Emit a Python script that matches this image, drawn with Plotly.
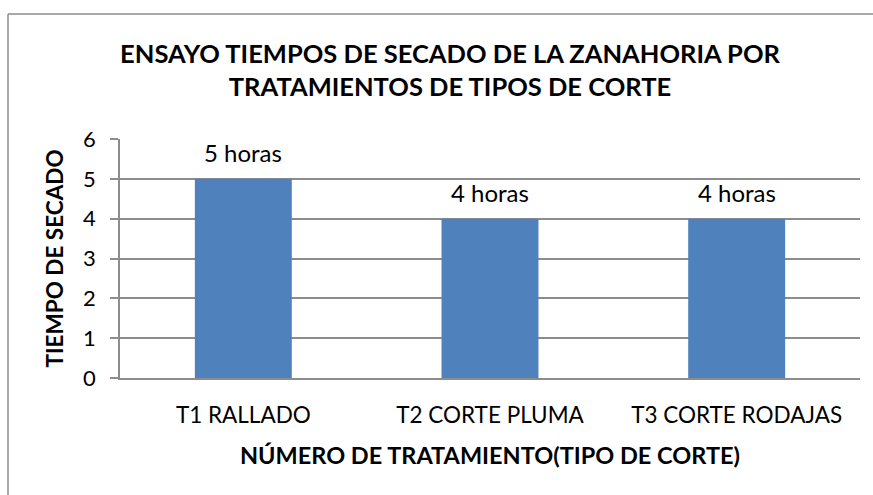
import plotly.graph_objects as go

categories = ["T1 RALLADO", "T2 CORTE PLUMA", "T3 CORTE RODAJAS"]
values = [5, 4, 4]
labels = ["5 horas", "4 horas", "4 horas"]
y_ticks = [0, 1, 2, 3, 4, 5, 6]

W, H = 873, 495
L, R, T, B = 120, 13, 139, 117
pw, ph = W - L - R, H - T - B

FONT = "Lato, Carlito, Calibri, sans-serif"

fig = go.Figure()
fig.add_trace(go.Bar(
    x=categories, y=values,
    marker=dict(color="#4F81BD", line=dict(width=0)),
    hoverinfo="x+y",
))

for c, v, t in zip(categories, values, labels):
    fig.add_annotation(x=c, y=v, text=t, showarrow=False, yanchor="middle",
                       yshift=26, font=dict(size=24, color="#000000", family=FONT))

# outer chart border (top and left edges visible)
bx = (8 - L) / pw
by = (H - B - 14) / ph
fig.add_shape(type="line", xref="paper", yref="paper",
              x0=bx, x1=(W - L) / pw, y0=by, y1=by,
              line=dict(color="#8C8C8C", width=1.5), layer="below")
fig.add_shape(type="line", xref="paper", yref="paper",
              x0=bx, x1=bx, y0=by, y1=-B / ph,
              line=dict(color="#8C8C8C", width=1.5), layer="below")

fig.update_layout(
    width=W, height=H,
    margin=dict(l=L, r=R, t=T, b=B),
    paper_bgcolor="white", plot_bgcolor="white",
    bargap=0.607,
    showlegend=False,
    font=dict(family=FONT, color="#000000"),
    title=dict(
        text="ENSAYO TIEMPOS DE SECADO DE LA ZANAHORIA POR<br>TRATAMIENTOS DE TIPOS DE CORTE",
        x=450 / W, xanchor="center", xref="container",
        y=1 - 63 / H, yanchor="middle", yref="container",
        font=dict(size=25.5, family=FONT, weight="bold", color="#000000"),
    ),
    xaxis=dict(
        showline=True, linecolor="#8C8C8C", linewidth=2,
        ticks="", tickfont=dict(size=22.5, family=FONT),
        ticklabelstandoff=16,
        title=dict(text="NÚMERO DE TRATAMIENTO(TIPO DE CORTE)",
                   font=dict(size=23.5, family=FONT, weight="bold"), standoff=21),
        showgrid=False,
    ),
    yaxis=dict(
        range=[0, 6], tickvals=y_ticks,
        showline=True, linecolor="#8C8C8C", linewidth=1.5,
        ticks="outside", ticklen=8, tickcolor="#8C8C8C", tickwidth=1.5,
        tickfont=dict(size=22, family=FONT),
        ticklabelstandoff=10,
        showgrid=True, gridcolor="#8C8C8C", gridwidth=1.5,
        zeroline=False,
        title=dict(text="TIEMPO DE SECADO",
                   font=dict(size=22.5, family=FONT, weight="bold"), standoff=13),
    ),
)

fig.write_html("out.html", config={"displayModeBar": False},
               post_script="document.body.style.margin='0';")
